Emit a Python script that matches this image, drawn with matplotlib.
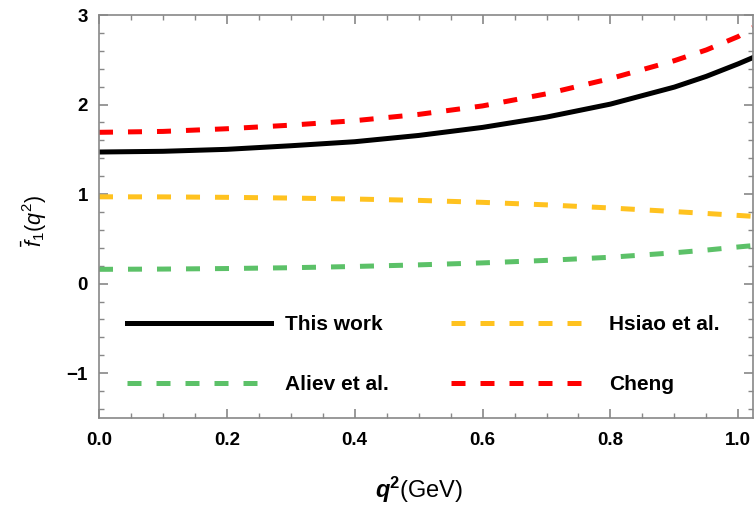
import numpy as np
import matplotlib
matplotlib.use("Agg")
import matplotlib.pyplot as plt
from matplotlib.ticker import MultipleLocator

plt.rcParams["font.family"] = ["Liberation Sans", "DejaVu Sans"]
plt.rcParams["mathtext.fontset"] = "custom"
plt.rcParams["mathtext.rm"] = "Liberation Sans"
plt.rcParams["mathtext.it"] = "Liberation Sans:italic"
plt.rcParams["mathtext.bf"] = "Liberation Sans:bold"
plt.rcParams["mathtext.bfit"] = "Liberation Sans:bold:italic"

# values
q2 = [0.0, 0.1, 0.2, 0.3, 0.4, 0.5, 0.6, 0.7, 0.8, 0.9, 0.95, 1.0, 1.023]
this_work = [1.47, 1.478, 1.50, 1.54, 1.585, 1.655, 1.745, 1.86, 2.005, 2.195, 2.315, 2.455, 2.525]
hsiao = [0.97, 0.969, 0.964, 0.956, 0.945, 0.93, 0.908, 0.88, 0.845, 0.805, 0.784, 0.762, 0.752]
aliev = [0.16, 0.163, 0.169, 0.178, 0.192, 0.21, 0.232, 0.26, 0.295, 0.345, 0.375, 0.41, 0.425]
cheng = [1.69, 1.70, 1.73, 1.77, 1.82, 1.89, 1.985, 2.12, 2.29, 2.49, 2.61, 2.76, 2.86]

labels = ["This work", "Hsiao et al.", "Aliev et al.", "Cheng"]
colors = ["black", "#FFC21F", "#5CC168", "#FF0000"]

fig = plt.figure(figsize=(7.54, 5.12), dpi=100)
ax = fig.add_axes([99 / 754, 1 - 418 / 512, 654 / 754, 403 / 512])

lw = 3.6
dash = (2.8, 3.0)
l1, = ax.plot(q2, this_work, color=colors[0], lw=lw, label=labels[0])
l2, = ax.plot(q2, hsiao, color=colors[1], lw=lw, dashes=dash, label=labels[1])
l3, = ax.plot(q2, aliev, color=colors[2], lw=lw, dashes=dash, label=labels[2])
l4, = ax.plot(q2, cheng, color=colors[3], lw=lw, dashes=dash, label=labels[3])

ax.set_xlim(0, 1.023)
ax.set_ylim(-1.5, 3)
ax.xaxis.set_major_locator(MultipleLocator(0.2))
ax.xaxis.set_minor_locator(MultipleLocator(0.05))
ax.yaxis.set_major_locator(MultipleLocator(1))
ax.yaxis.set_minor_locator(MultipleLocator(0.2))
ax.xaxis.set_major_formatter(matplotlib.ticker.FormatStrFormatter("%.1f"))
ax.yaxis.set_major_formatter(matplotlib.ticker.FuncFormatter(
    lambda v, p: "%d" % v if v >= 0 else "\u2212%d" % -v))

for s in ax.spines.values():
    s.set_color("#888888")
    s.set_linewidth(1.2)
ax.tick_params(which="both", direction="in", top=True, right=True, color="#888888")
ax.tick_params(which="major", length=6.5, width=1.2)
ax.tick_params(which="minor", length=3.5, width=1.0)
ax.tick_params(axis="x", pad=10, labelsize=13.5)
ax.tick_params(axis="y", pad=8, labelsize=13.5)
for t in ax.get_xticklabels() + ax.get_yticklabels():
    t.set_fontweight("bold")

ax.set_ylabel(r"$\bar{f}_1(q^2)$", fontsize=15.5)
ax.yaxis.set_label_coords(-0.077, 0.488)
ax.set_xlabel(r"$\mathbfit{q}^{\mathbf{2}}$(GeV)", fontsize=17)
ax.xaxis.set_label_coords(0.49, -0.14)

# column-major fill: This work / Aliev in first column
leg = ax.legend([l1, l3, l2, l4], [labels[0], labels[2], labels[1], labels[3]],
                ncol=2, loc="upper left",
                bbox_to_anchor=(0.043, 0.256), frameon=False,
                handlelength=6.9, handletextpad=0.67, columnspacing=3.0,
                labelspacing=2.0, borderpad=0, borderaxespad=0,
                prop={"weight": "bold", "size": 15})

fig.savefig("out.png", dpi=100)
